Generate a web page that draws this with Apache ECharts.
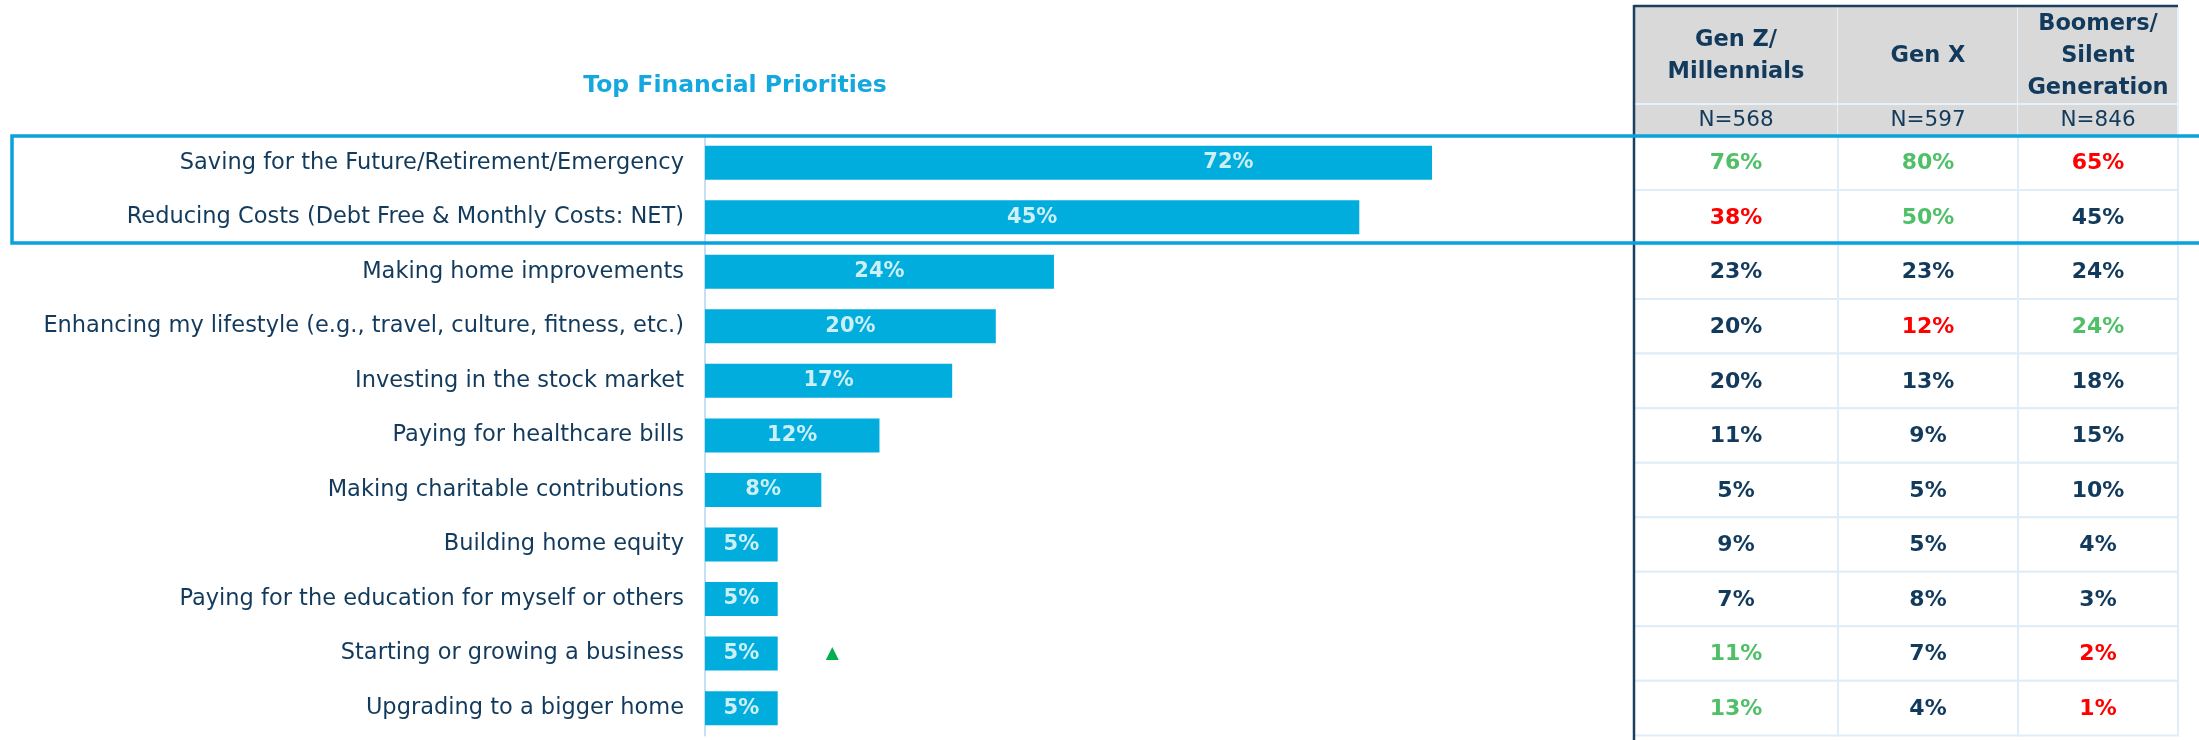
<!DOCTYPE html>
<html>
<head>
<meta charset="utf-8">
<script src="https://cdn.jsdelivr.net/npm/echarts@6/dist/echarts.min.js"></script>
<style>
  html, body { margin: 0; padding: 0; background: #ffffff; }
  #chart { width: 2199px; height: 740px; }
</style>
</head>
<body>
<div id="chart"></div>
<script>
// ---- data ----
const categories = [
  'Saving for the Future/Retirement/Emergency',
  'Reducing Costs (Debt Free & Monthly Costs: NET)',
  'Making home improvements',
  'Enhancing my lifestyle (e.g., travel, culture, fitness, etc.)',
  'Investing in the stock market',
  'Paying for healthcare bills',
  'Making charitable contributions',
  'Building home equity',
  'Paying for the education for myself or others',
  'Starting or growing a business',
  'Upgrading to a bigger home'
];
const totalShare = [72, 45, 24, 20, 17, 12, 8, 5, 5, 5, 5];
// significance marker shown beside the total bar (1 = higher)
const totalSig = [0, 0, 0, 0, 0, 0, 0, 0, 0, 1, 0];

const generations = ['Gen Z/\nMillennials', 'Gen X', 'Boomers/\nSilent\nGeneration'];
const sampleSizes = ['N=568', 'N=597', 'N=846'];

const genZ    = [76, 38, 23, 20, 20, 11, 5, 9, 7, 11, 13];
const genX    = [80, 50, 23, 12, 13, 9, 5, 5, 8, 7, 4];
const boomers = [65, 45, 24, 24, 18, 15, 10, 4, 3, 2, 1];
// 1 = significantly higher, -1 = significantly lower, 0 = no difference
const genZSig    = [1, -1, 0, 0, 0, 0, 0, 0, 0, 1, 1];
const genXSig    = [1, 1, 0, -1, 0, 0, 0, 0, 0, 0, 0];
const boomersSig = [-1, 0, 0, 1, 0, 0, 0, 0, 0, -1, -1];

const chartTitle = 'Top Financial Priorities';

// ---- styling / layout ----
const FONT = 'DejaVu Sans';
const NAVY = '#123a5c';
const CYAN = '#00addc';
const GREEN = '#4fbf68';
const RED = '#ff0000';
const GRID_LINE = '#deedf8';
const HEADER_BG = '#d9d9d9';
const BOX_BLUE = '#0aa2dd';

const barGrid = { left: 705, top: 135.4, width: 727, height: 600 };
const tableGrid = { left: 1634, top: 135.4, width: 544, height: 600 };
const colWidths = [204, 180, 160];
const colOffsets = colWidths.map((w, i) => colWidths.slice(0, i).reduce((a, b) => a + b, 0));
const headerTop = 7;
const nRowTop = 104;

const genValues = [genZ, genX, boomers];
const genSig = [genZSig, genXSig, boomersSig];
const tableData = [];
genValues.forEach((vals, c) => {
  vals.forEach((v, r) => tableData.push([c, r, v, genSig[c][r]]));
});

function sigColor(s) {
  return s > 0 ? GREEN : (s < 0 ? RED : NAVY);
}

const chart = echarts.init(document.getElementById('chart'), null, { renderer: 'canvas' });

const option = {
  animation: false,
  backgroundColor: '#ffffff',
  title: {
    text: chartTitle,
    left: 730,
    top: 69,
    textAlign: 'center',
    textStyle: { fontFamily: FONT, fontWeight: 'bold', fontSize: 23.5, color: '#14a8de' }
  },
  grid: [
    Object.assign({ containLabel: false }, barGrid),
    Object.assign({ containLabel: false }, tableGrid)
  ],
  xAxis: [
    { gridIndex: 0, type: 'value', min: 0, max: 50, show: false },
    { gridIndex: 1, type: 'value', min: 0, max: 3, show: false }
  ],
  yAxis: [
    {
      gridIndex: 0,
      type: 'category',
      data: categories,
      inverse: true,
      axisLine: { show: true, lineStyle: { color: '#c5e0f5', width: 2 } },
      axisTick: { show: false },
      axisLabel: {
        margin: 21,
        fontFamily: FONT,
        fontSize: 22.5,
        color: NAVY
      }
    },
    {
      gridIndex: 1,
      type: 'category',
      data: categories,
      inverse: true,
      show: false
    }
  ],
  series: [
    {
      name: 'Total',
      type: 'bar',
      xAxisIndex: 0,
      yAxisIndex: 0,
      barWidth: 34,
      itemStyle: { color: CYAN },
      data: totalShare.map((v, i) => totalSig[i] > 0 ? {
        value: v,
        label: {
          show: true,
          position: 'right',
          distance: 48,
          formatter: '\u25B2',
          color: '#00b050',
          fontSize: 17,
          fontFamily: FONT
        }
      } : v),
      z: 2
    },
    {
      // value labels sit at the middle of each bar's full length
      name: 'Total labels',
      type: 'scatter',
      xAxisIndex: 0,
      yAxisIndex: 0,
      symbolSize: 0,
      silent: true,
      data: totalShare.map((v, i) => [v / 2, i]),
      label: {
        show: true,
        position: 'inside',
        formatter: (p) => totalShare[p.dataIndex] + '%',
        color: '#ffffff',
        fontFamily: FONT,
        fontWeight: 'bold',
        fontSize: 21
      },
      z: 3
    },
    {
      name: 'Generations',
      type: 'custom',
      xAxisIndex: 1,
      yAxisIndex: 1,
      data: tableData,
      encode: { x: 0, y: 1 },
      renderItem: function (params, api) {
        const cs = params.coordSys;
        const col = api.value(0);
        const row = api.value(1);
        const val = api.value(2);
        const sig = api.value(3);
        const yc = api.coord([0, row])[1];
        const h = api.size([0, 1])[1];
        const x0 = cs.x + colOffsets[col];
        const w = colWidths[col];
        return {
          type: 'group',
          children: [
            {
              type: 'rect',
              shape: { x: x0, y: yc - h / 2, width: w, height: h },
              style: { fill: '#ffffff', stroke: GRID_LINE, lineWidth: 2 }
            },
            {
              type: 'text',
              x: x0 + w / 2,
              y: yc + 1,
              style: {
                text: val + '%',
                fill: sigColor(sig),
                fontFamily: FONT,
                fontWeight: 'bold',
                fontSize: 22,
                align: 'center',
                verticalAlign: 'middle'
              }
            }
          ]
        };
      },
      z: 1
    },
    {
      name: 'Header',
      type: 'custom',
      xAxisIndex: 1,
      yAxisIndex: 1,
      data: generations.map((g, i) => [i, 0]),
      encode: { x: 0, y: 1 },
      silent: true,
      renderItem: function (params, api) {
        const cs = params.coordSys;
        const col = params.dataIndex;
        const x0 = cs.x + colOffsets[col];
        const w = colWidths[col];
        const bottom = cs.y;
        return {
          type: 'group',
          children: [
            {
              type: 'rect',
              shape: { x: x0, y: headerTop, width: w, height: bottom - headerTop },
              style: { fill: HEADER_BG }
            },
            {
              type: 'line',
              shape: { x1: x0 + w, y1: headerTop, x2: x0 + w, y2: bottom },
              style: { stroke: '#e6f1fa', lineWidth: 2 }
            },
            {
              type: 'line',
              shape: { x1: x0, y1: nRowTop, x2: x0 + w, y2: nRowTop },
              style: { stroke: '#e6f1fa', lineWidth: 2 }
            },
            {
              type: 'text',
              x: x0 + w / 2,
              y: (headerTop + nRowTop) / 2 + 1,
              style: {
                text: generations[col],
                fill: NAVY,
                fontFamily: FONT,
                fontWeight: 'bold',
                fontSize: 22.5,
                lineHeight: 32,
                align: 'center',
                verticalAlign: 'middle'
              }
            },
            {
              type: 'text',
              x: x0 + w / 2,
              y: (nRowTop + bottom) / 2 + 1,
              style: {
                text: sampleSizes[col],
                fill: NAVY,
                fontFamily: FONT,
                fontSize: 21.5,
                align: 'center',
                verticalAlign: 'middle'
              }
            }
          ]
        };
      },
      z: 1
    }
  ]
};

chart.setOption(option);

// table frame and the highlight box around the two leading priorities
const boxTop = chart.convertToPixel({ yAxisIndex: 0 }, categories[0]);
const boxBottom = chart.convertToPixel({ yAxisIndex: 0 }, categories[1]);
const band = boxBottom - boxTop;
chart.setOption({
  graphic: [
    {
      type: 'line',
      z: 100,
      shape: { x1: tableGrid.left, y1: 5, x2: tableGrid.left, y2: 740 },
      style: { stroke: '#1b3f60', lineWidth: 2.5 }
    },
    {
      type: 'line',
      z: 100,
      shape: { x1: tableGrid.left, y1: 6, x2: tableGrid.left + tableGrid.width, y2: 6 },
      style: { stroke: '#1b3f60', lineWidth: 2.5 }
    },
    {
      type: 'rect',
      z: 101,
      shape: {
        x: 12,
        y: boxTop - band / 2 + 0.5,
        width: 2240,
        height: 2 * band - 2
      },
      style: { fill: 'none', stroke: BOX_BLUE, lineWidth: 3.5 }
    }
  ]
});
</script>
</body>
</html>
